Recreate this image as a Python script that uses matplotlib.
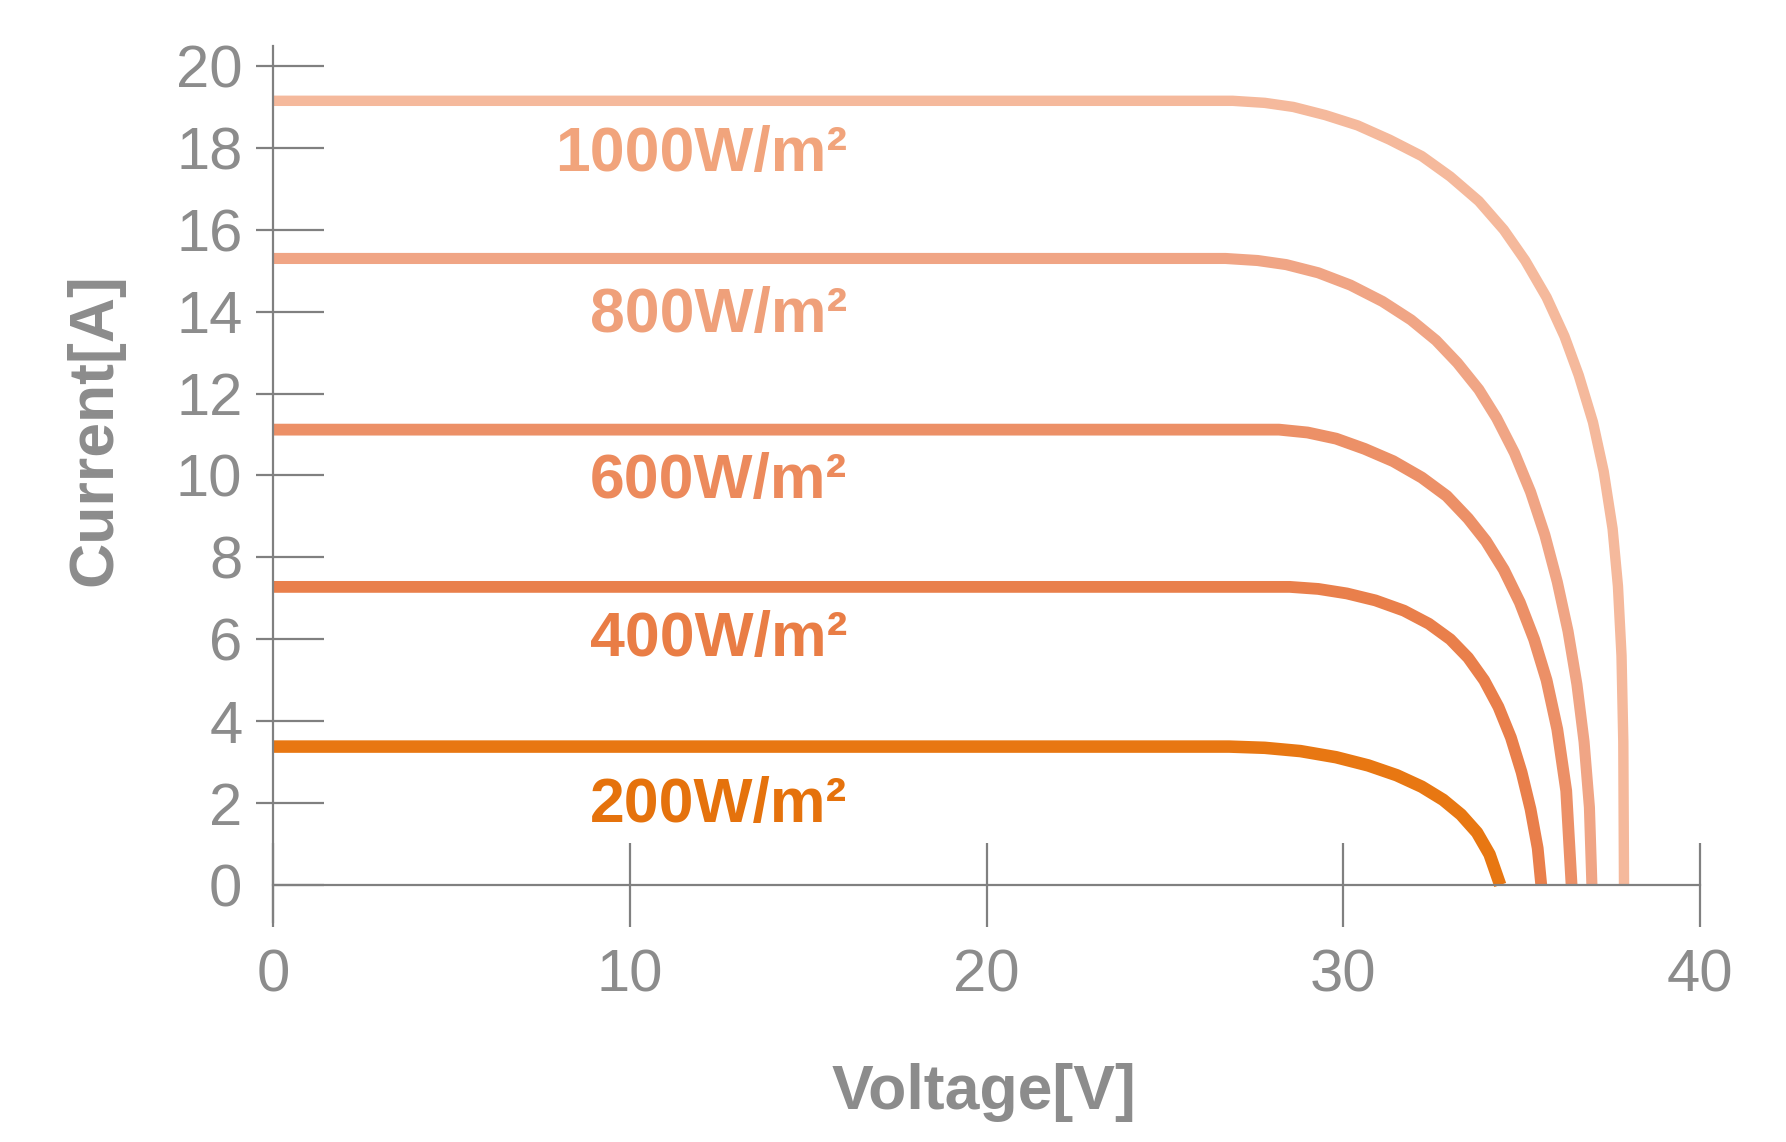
import matplotlib
matplotlib.use("Agg")
import matplotlib.pyplot as plt
from matplotlib.ticker import FixedLocator

plt.rcParams['font.family'] = ['Liberation Sans', 'DejaVu Sans']

# ---- data ----
labels = ["1000W/m²", "800W/m²", "600W/m²", "400W/m²", "200W/m²"]

v_1000 = [0, 26.9, 27.8, 28.6, 29.5, 30.4, 31.3, 32.2, 33.0, 33.8, 34.5, 35.1, 35.7, 36.2, 36.6, 37.0, 37.3, 37.55, 37.7, 37.8, 37.85, 37.87]
i_1000 = [19.15, 19.15, 19.1, 19.0, 18.8, 18.55, 18.2, 17.8, 17.3, 16.7, 16.0, 15.25, 14.35, 13.4, 12.45, 11.3, 10.1, 8.7, 7.3, 5.6, 3.5, 0]

v_800 = [0, 26.7, 27.6, 28.4, 29.3, 30.2, 31.1, 31.9, 32.6, 33.2, 33.8, 34.3, 34.8, 35.25, 35.65, 36.0, 36.3, 36.55, 36.75, 36.9, 36.97]
i_800 = [15.3, 15.3, 15.25, 15.15, 14.95, 14.65, 14.25, 13.8, 13.3, 12.75, 12.1, 11.4, 10.55, 9.6, 8.55, 7.4, 6.2, 4.9, 3.5, 1.9, 0]

v_600 = [0, 28.2, 29.0, 29.8, 30.6, 31.4, 32.2, 32.9, 33.5, 34.0, 34.5, 34.95, 35.35, 35.7, 36.0, 36.25, 36.4]
i_600 = [11.12, 11.12, 11.05, 10.9, 10.65, 10.35, 9.95, 9.5, 8.95, 8.4, 7.7, 6.9, 6.0, 5.0, 3.8, 2.3, 0]

v_400 = [0, 28.5, 29.3, 30.1, 30.9, 31.7, 32.4, 33.0, 33.5, 33.95, 34.35, 34.7, 35.0, 35.25, 35.45, 35.55]
i_400 = [7.28, 7.28, 7.23, 7.12, 6.95, 6.7, 6.38, 6.0, 5.55, 5.0, 4.35, 3.6, 2.75, 1.85, 0.9, 0]

v_200 = [0, 26.8, 27.8, 28.8, 29.8, 30.7, 31.5, 32.2, 32.8, 33.3, 33.75, 34.1, 34.4]
i_200 = [3.38, 3.38, 3.35, 3.27, 3.12, 2.92, 2.68, 2.4, 2.08, 1.72, 1.28, 0.75, 0]

label_v = [16.1, 16.1, 16.1, 16.1, 16.1]
label_i = [17.44, 13.5, 9.44, 5.58, 1.55]

x_ticks = [0, 10, 20, 30, 40]
y_ticks = [0, 2, 4, 6, 8, 10, 12, 14, 16, 18, 20]
y_minor = [2, 4, 6, 8, 10, 12, 14, 16, 18, 20]

# ---- styles ----
line_colors = ['#F5B99C', '#F0A585', '#EC9067', '#E97F4B', '#E87712']
text_colors = ['#F1A47C', '#EFA07A', '#EC8A5C', '#E97D45', '#E5720C']
line_widths = [7.5, 8.0, 8.5, 8.5, 9.0]
gray_line = '#808080'
gray_text = '#8c8c8c'

W, H = 1786, 1142
fig = plt.figure(figsize=(W / 100, H / 100), dpi=100)

# axes placement (pixels)
x0_px, x40_px = 273, 1700
y0_px, ppu = 885, 40.95
ymin, ymax = -0.9, 20.5
bottom_px = y0_px - ymin * ppu
top_px = y0_px - ymax * ppu
ax = fig.add_axes([x0_px / W, 1 - bottom_px / H, (x40_px - x0_px) / W, (bottom_px - top_px) / H])
ax.set_xlim(0, 40)
ax.set_ylim(ymin, ymax)

series = [(v_1000, i_1000), (v_800, i_800), (v_600, i_600), (v_400, i_400), (v_200, i_200)]
for (v, i), c, lw in zip(series, line_colors, line_widths):
    ax.plot(v, i, color=c, lw=lw, solid_capstyle='butt', solid_joinstyle='round')

for lab, xv, yv, c in zip(labels, label_v, label_i, text_colors):
    ax.text(xv, yv, lab, ha='right', va='baseline', fontsize=45, fontweight='bold', color=c)

# spines
for s in ['top', 'right']:
    ax.spines[s].set_visible(False)
ax.spines['bottom'].set_position(('data', 0))
for s in ['left', 'bottom']:
    ax.spines[s].set_color(gray_line)
    ax.spines[s].set_linewidth(1.6)

ax.set_xticks(x_ticks)
ax.set_yticks(y_ticks)
ax.yaxis.set_minor_locator(FixedLocator(y_minor))
ax.yaxis.remove_overlapping_locs = False

ax.tick_params(axis='x', which='major', direction='inout', length=60, width=1.6,
               color=gray_line, labelsize=43, labelcolor=gray_text, pad=16)
ax.tick_params(axis='y', which='major', direction='in', length=37, width=1.6,
               color=gray_line, labelsize=43, labelcolor=gray_text, pad=22)
ax.tick_params(axis='y', which='minor', direction='out', length=12, width=1.6,
               color=gray_line)

ax.set_xlabel('Voltage[V]', fontsize=45, fontweight='bold', color=gray_text)
ax.set_ylabel('Current[A]', fontsize=45, fontweight='bold', color=gray_text)
ax.xaxis.set_label_coords(984 / W, 1 - 1092 / H, transform=fig.transFigure)
ax.yaxis.set_label_coords(94.5 / W, 1 - 430 / H, transform=fig.transFigure)
ax.xaxis.label.set_va('center')
ax.yaxis.label.set_va('center')
ax.yaxis.label.set_ha('center')

fig.savefig('out.png', dpi=100, facecolor='white')
